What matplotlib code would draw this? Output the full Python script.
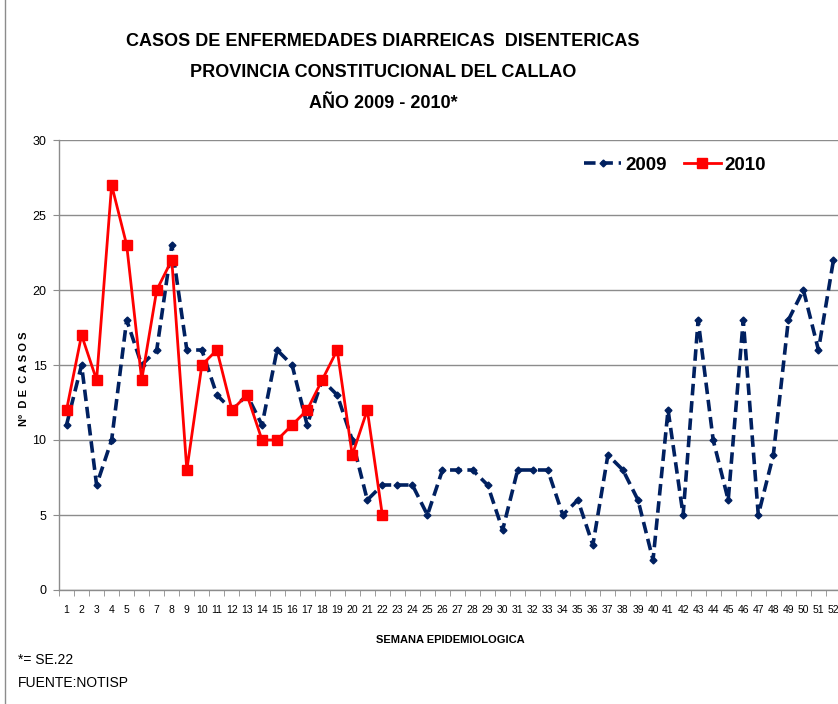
import matplotlib
matplotlib.use("Agg")
import matplotlib.pyplot as plt
from matplotlib.lines import Line2D
import numpy as np

weeks = list(range(1, 53))
cases_2009 = [11, 15, 7, 10, 18, 15, 16, 23, 16, 16, 13, 12, 13, 11, 16, 15, 11, 14, 13, 10,
              6, 7, 7, 7, 5, 8, 8, 8, 7, 4, 8, 8, 8, 5, 6, 3, 9, 8, 6, 2,
              12, 5, 18, 10, 6, 18, 5, 9, 18, 20, 16, 22]
cases_2010 = [12, 17, 14, 27, 23, 14, 20, 22, 8, 15, 16, 12, 13, 10, 10, 11, 12, 14, 16, 9, 12, 5]
yticks = [0, 5, 10, 15, 20, 25, 30]
title_lines = ["CASOS DE ENFERMEDADES DIARREICAS  DISENTERICAS",
               "PROVINCIA CONSTITUCIONAL DEL CALLAO",
               "AÑO 2009 - 2010*"]

plt.rcParams['font.family'] = ['Liberation Sans', 'DejaVu Sans']

W, H = 838, 704
fig = plt.figure(figsize=(W / 100, H / 100), dpi=100)
ax = fig.add_axes([59 / W, (H - 590) / H, 782 / W, 450 / H])

navy = '#002060'
red = '#FF0000'

ax.plot(weeks, cases_2009, color=navy, lw=2.6, linestyle=(0, (3.2, 1.6)),
        marker='D', markersize=3.5, markerfacecolor=navy, markeredgecolor=navy, zorder=3)
ax.plot(weeks[:len(cases_2010)], cases_2010, color=red, lw=2.0, marker='s',
        markersize=7.5, markerfacecolor=red, markeredgecolor=red, zorder=4)

ax.set_xlim(0.5, 52.5)
ax.set_ylim(0, 30)
ax.set_yticks(yticks)
ax.yaxis.grid(True, color='#8c8c8c', lw=1.0)
ax.set_axisbelow(True)
ax.set_xticks(weeks)
ax.set_xticklabels([str(w) for w in weeks], fontsize=7.5)
ax.set_xticks(np.arange(0.5, 53, 1), minor=True)
ax.tick_params(axis='x', which='major', length=0, pad=11)
ax.tick_params(axis='x', which='minor', length=4, color='#8c8c8c', direction='out')
ax.tick_params(axis='y', length=4, color='#8c8c8c', labelsize=9, pad=5)
for s in ['top', 'right']:
    ax.spines[s].set_visible(False)
for s in ['left', 'bottom']:
    ax.spines[s].set_color('#8c8c8c')
    ax.spines[s].set_linewidth(1.0)

ax.set_ylabel('Nº  D E  C A S O S', fontsize=8, fontweight='bold')
ax.yaxis.set_label_coords(-30 / 782, 0.47)
ax.set_xlabel('SEMANA EPIDEMIOLOGICA', fontsize=8, fontweight='bold', labelpad=14)

for i, t in enumerate(title_lines):
    fig.text(383 / W, 1 - (41 + 31.5 * i) / H, t, ha='center', va='center',
             fontsize=13, fontweight='bold')

handles = [Line2D([0], [0], color=navy, lw=2.6, linestyle=(0, (3.2, 1.6)), marker='D',
                  markersize=3.5),
           Line2D([0], [0], color=red, lw=2.0, marker='s', markersize=7.5)]
ax.legend(handles, ['2009', '2010'], loc='upper left', bbox_to_anchor=(508 / 782, 1.0),
          ncol=2, frameon=False, prop={'weight': 'bold', 'size': 13.5},
          handlelength=2.0, handletextpad=0.2, columnspacing=0.9)

fig.text(18 / W, 1 - 660 / H, '*= SE.22', fontsize=10, va='center')
fig.text(18 / W, 1 - 683 / H, 'FUENTE:NOTISP', fontsize=10, va='center')
fig.add_artist(Line2D([5 / W, 5 / W], [0, 1], color='#8c8c8c', lw=1.0))

fig.savefig('out.png', dpi=100)
